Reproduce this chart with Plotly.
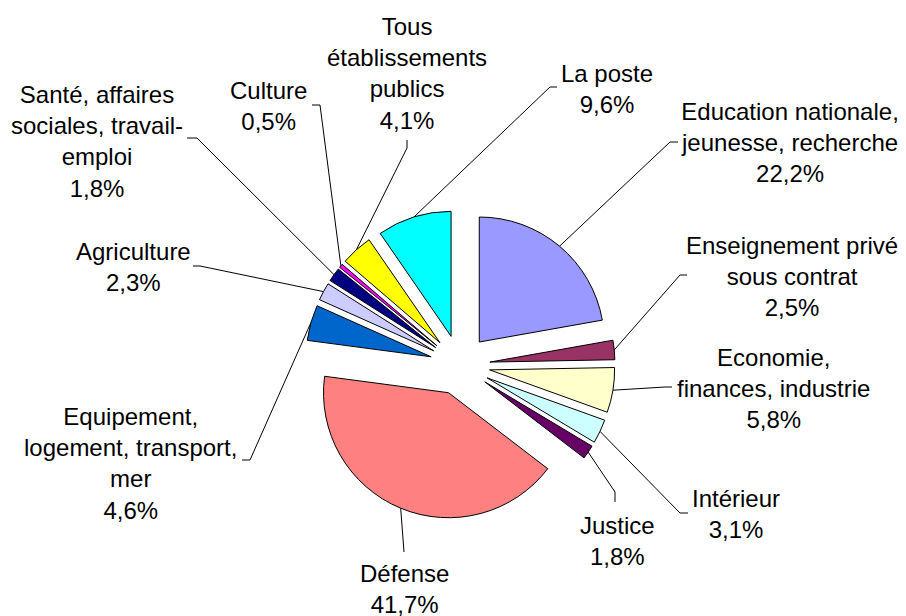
import math
import plotly.graph_objects as go

# ---- data ----
categories = [
    "Education nationale,<br>jeunesse, recherche",
    "Enseignement privé<br>sous contrat",
    "Economie,<br>finances, industrie",
    "Intérieur",
    "Justice",
    "Défense",
    "Equipement,<br>logement, transport,<br>mer",
    "Agriculture",
    "Santé, affaires<br>sociales, travail-<br>emploi",
    "Culture",
    "Tous<br>établissements<br>publics",
    "La poste",
]
values = [22.2, 2.5, 5.8, 3.1, 1.8, 41.7, 4.6, 2.3, 1.8, 0.5, 4.1, 9.6]
colors = ["#9999FF", "#993366", "#FFFFCC", "#CCFFFF", "#660066", "#FF8080",
          "#0066CC", "#CCCCFF", "#000080", "#FF00FF", "#FFFF00", "#00FFFF"]

# ---- layout (screen pixels; page body has an 8px margin) ----
OFF = 8
W, H = 906 - OFF, 616 - OFF
PULL = 0.24
CX, CY = 460, 365          # pie centre in screen px
BOX = 155                  # half size of pie box (r * (1 + pull))
R = BOX / (1 + PULL)

# label centres and leader line elbow / end points (screen px)
label_pos = [(790, 142), (792, 277), (773, 388), (736, 514), (617, 541), (404, 589),
             (130, 463), (133, 267), (97, 141), (268, 106), (407, 74), (607, 89)]
leader_pts = [
    [(670, 142), (678, 142)],
    [(680, 275), (687, 275)],
    [(665, 387), (672, 387)],
    [(680, 513), (688, 513)],
    [(615, 492), (615, 502)],
    [(404, 552), (404, 552)],
    [(250, 460), (242, 460)],
    [(200, 266), (193, 266)],
    [(197, 138), (187, 138)],
    [(320, 105), (312, 105)],
    [(407, 148), (407, 140)],
    [(550, 87), (557, 87)],
]

def px(x):
    return (x - OFF) / W

def py(y):
    return 1 - (y - OFF) / H

fig = go.Figure(go.Pie(
    values=values,
    labels=[c.replace("<br>", " ") for c in categories],
    sort=False,
    direction="clockwise",
    rotation=0,
    pull=[PULL] * len(values),
    marker=dict(colors=colors, line=dict(color="black", width=1)),
    textinfo="none",
    hoverinfo="label+percent",
    showlegend=False,
    domain=dict(x=[px(CX - BOX), px(CX + BOX)], y=[py(CY + BOX), py(CY - BOX)]),
))

total = sum(values)
cum = 0.0
shapes = []
annotations = []
for i, v in enumerate(values):
    mid = (cum + v / 2) / total * 2 * math.pi
    cum += v
    sx = CX + (R + PULL * R) * math.sin(mid)
    sy = CY - (R + PULL * R) * math.cos(mid)
    (ex, ey), (tx, ty) = leader_pts[i]
    path = f"M {px(sx)} {py(sy)} L {px(ex)} {py(ey)} L {px(tx)} {py(ty)}"
    shapes.append(dict(type="path", xref="paper", yref="paper", path=path,
                       line=dict(color="black", width=1)))
    pct = f"{v:.1f}".replace(".", ",") + "%"
    lx, ly = label_pos[i]
    annotations.append(dict(
        x=px(lx), y=py(ly), xref="paper", yref="paper",
        text=categories[i] + "<br>" + pct,
        showarrow=False, xanchor="center", yanchor="middle", align="center",
        font=dict(family="Liberation Sans, Arial, sans-serif", size=24, color="black"),
    ))

fig.update_layout(
    width=W, height=H,
    margin=dict(l=0, r=0, t=0, b=0),
    paper_bgcolor="white",
    plot_bgcolor="white",
    shapes=shapes,
    annotations=annotations,
    showlegend=False,
)

fig.write_html("out.html")
